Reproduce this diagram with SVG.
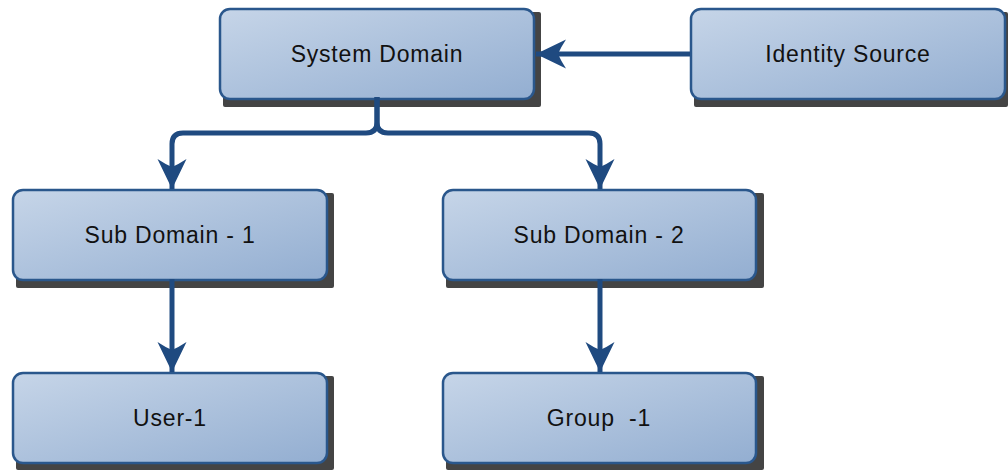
<svg xmlns="http://www.w3.org/2000/svg" width="1008" height="470" viewBox="0 0 1008 470">
<defs>
<linearGradient id="g" x1="0" y1="0" x2="1" y2="1">
<stop offset="0" stop-color="#c6d5e8"/>
<stop offset="1" stop-color="#93aed1"/>
</linearGradient>
<marker id="ah" viewBox="0 0 30 30" refX="30" refY="15" markerWidth="30" markerHeight="30" markerUnits="userSpaceOnUse" orient="auto">
<path d="M30,15 L0,0.5 Q5,8 8,15 Q5,22 0,29.5 Z" fill="#1f4a80"/>
</marker>
<style>
.shadow{fill:#444444}
.box{fill:url(#g);stroke:#2a578c;stroke-width:2.5}
.lbl{font-family:"Liberation Sans",Arial,sans-serif;font-size:23px;letter-spacing:0.8px;fill:#111111;text-anchor:middle}
.con{fill:none;stroke:#1f4a80;stroke-width:5;stroke-linejoin:round}
</style>
</defs>
<g id="system-domain">
<rect class="shadow" x="223" y="12" width="318" height="95" rx="2"/>
<rect class="box" x="220" y="9" width="314" height="90" rx="10"/>
<text class="lbl" x="377" y="62">System Domain</text>
</g>
<g id="identity-source">
<rect class="shadow" x="694" y="12" width="314" height="95" rx="2"/>
<rect class="box" x="691" y="9" width="314" height="90" rx="10"/>
<text class="lbl" x="848" y="62">Identity Source</text>
</g>
<g id="sub-domain-1">
<rect class="shadow" x="16" y="193" width="318" height="95" rx="2"/>
<rect class="box" x="13" y="190" width="314" height="90" rx="10"/>
<text class="lbl" x="170" y="243">Sub Domain - 1</text>
</g>
<g id="sub-domain-2">
<rect class="shadow" x="446" y="193" width="318" height="95" rx="2"/>
<rect class="box" x="443" y="190" width="313" height="90" rx="10"/>
<text class="lbl" x="599" y="243">Sub Domain - 2</text>
</g>
<g id="user-1">
<rect class="shadow" x="16" y="376" width="318" height="94" rx="2"/>
<rect class="box" x="13" y="373" width="314" height="90" rx="10"/>
<text class="lbl" x="170" y="426">User-1</text>
</g>
<g id="group-1">
<rect class="shadow" x="446" y="376" width="318" height="94" rx="2"/>
<rect class="box" x="443" y="373" width="313" height="90" rx="10"/>
<text class="lbl" x="599" y="426" xml:space="preserve">Group  -1</text>
</g>
<g id="connectors">
<path class="con" d="M690,54 L536,54" marker-end="url(#ah)"/>
<path class="con" d="M377,97 L377,122 Q377,133 366,133 L183,133 Q172,133 172,144 L172,189" marker-end="url(#ah)"/>
<path class="con" d="M377,97 L377,122 Q377,133 388,133 L589,133 Q600,133 600,144 L600,189" marker-end="url(#ah)"/>
<path class="con" d="M172,279 L172,372" marker-end="url(#ah)"/>
<path class="con" d="M600,279 L600,372" marker-end="url(#ah)"/>
</g>
</svg>
